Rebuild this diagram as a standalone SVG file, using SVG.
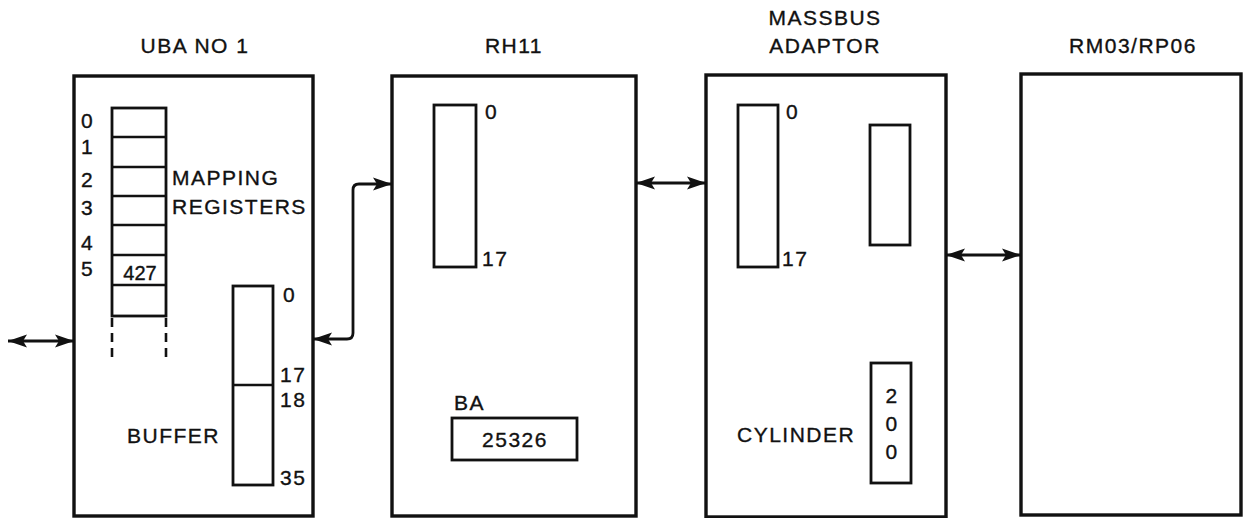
<svg xmlns="http://www.w3.org/2000/svg" width="1244" height="518" viewBox="0 0 1244 518">
<style>
text{font-family:"Liberation Sans",Arial,sans-serif;font-size:21px;letter-spacing:1.5px;fill:#111;stroke:#111;stroke-width:0.35}
.mid{text-anchor:middle}
.box{fill:none;stroke:#111;stroke-width:3.4}
.in{fill:none;stroke:#111;stroke-width:2.8}
.ln{fill:none;stroke:#111;stroke-width:2.6}
.dash{fill:none;stroke:#111;stroke-width:2.6;stroke-dasharray:9 6}
.con{fill:none;stroke:#111;stroke-width:2.8;marker-start:url(#ah);marker-end:url(#ah)}
</style>
<defs>
<marker id="ah" markerUnits="userSpaceOnUse" markerWidth="20" markerHeight="16" refX="19" refY="8" orient="auto-start-reverse" viewBox="0 0 20 16">
<path d="M0,1.5 L19,8 L0,14.5 L4,8 z" fill="#111"/>
</marker>
</defs>
<g id="uba">
<rect class="box" x="74" y="76" width="239" height="440"/>
<text class="mid" x="195" y="53">UBA NO 1</text>
<rect class="in" x="112" y="108" width="54" height="208"/>
<path class="ln" d="M112,137H166M112,167H166M112,196H166M112,225H166M112,255H166M112,285H166"/>
<path class="dash" d="M112,318V362M166,318V362"/>
<text x="81" y="128">0</text>
<text x="81" y="154">1</text>
<text x="81" y="187">2</text>
<text x="81" y="215">3</text>
<text x="81" y="250">4</text>
<text x="81" y="276">5</text>
<text class="mid" x="140" y="280" style="font-size:20px;letter-spacing:0">427</text>
<text x="172" y="185">MAPPING</text>
<text x="172" y="214">REGISTERS</text>
<rect class="in" x="233" y="286" width="40" height="199"/>
<path class="ln" d="M233,385H273"/>
<text x="283" y="302">0</text>
<text x="280" y="382">17</text>
<text x="280" y="407">18</text>
<text x="280" y="485">35</text>
<text x="127" y="443">BUFFER</text>
</g>
<g id="rh11">
<rect class="box" x="392" y="76" width="244" height="440"/>
<text class="mid" x="514" y="53">RH11</text>
<rect class="in" x="434" y="105" width="42" height="162"/>
<text x="485" y="119">0</text>
<text x="482" y="266">17</text>
<text x="454" y="410">BA</text>
<rect class="in" x="452" y="418" width="125" height="42"/>
<text class="mid" x="515" y="447">25326</text>
</g>
<g id="mba">
<rect class="box" x="706" y="75" width="240" height="442"/>
<text class="mid" x="825" y="25">MASSBUS</text>
<text class="mid" x="825" y="53">ADAPTOR</text>
<rect class="in" x="738" y="105" width="40" height="162"/>
<text x="786" y="119">0</text>
<text x="782" y="266">17</text>
<rect class="in" x="870" y="125" width="40" height="120"/>
<rect class="in" x="871" y="363" width="40" height="120"/>
<text class="mid" x="892" y="403">2</text>
<text class="mid" x="892" y="431">0</text>
<text class="mid" x="892" y="459">0</text>
<text x="737" y="442">CYLINDER</text>
</g>
<g id="rm">
<rect class="box" x="1021" y="74" width="220" height="441"/>
<text class="mid" x="1133" y="53">RM03/RP06</text>
</g>
<g id="connectors">
<path class="con" d="M8,341H74"/>
<path class="con" d="M313,339H347Q353,339 353,333V190Q353,184 359,184H392"/>
<path class="con" d="M636,183H706"/>
<path class="con" d="M946,255H1021"/>
</g>
</svg>
